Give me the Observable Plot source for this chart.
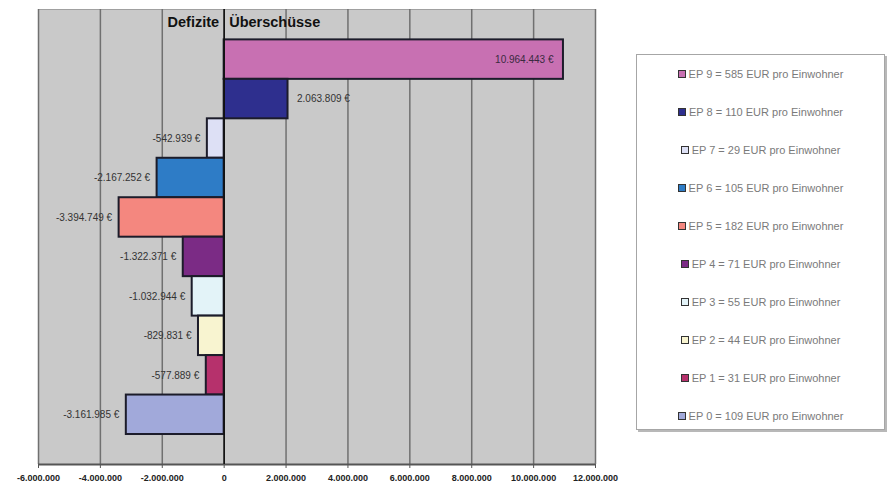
<!DOCTYPE html>
<html>
<head>
<meta charset="utf-8">
<script src="https://cdn.jsdelivr.net/npm/d3@7"></script>
<script src="https://cdn.jsdelivr.net/npm/@observablehq/plot@0.6"></script>
<style>
  html, body { margin: 0; padding: 0; background: #fff; }
  #wrap { position: relative; width: 896px; height: 484px; font-family: Arial, "Liberation Sans", sans-serif; }
  #chart { position: absolute; left: 0; top: 0; }
  #legend {
    position: absolute; left: 636px; top: 54px; width: 249px; height: 376px;
    border: 1px solid #a6a6a6; box-shadow: 2px 2px 0 #b8b8b8; background: #fff;
    box-sizing: border-box;
  }
  .row { height: 38px; display: flex; align-items: center; justify-content: center; font-size: 11px; color: #7a7a7a; }
  .sw { width: 6px; height: 6px; border: 1.5px solid #333; margin-right: 3px; }
</style>
</head>
<body>
<div id="wrap">
  <div id="chart"></div>
  <div id="legend"></div>
</div>
<script>
// ---- data ----
const categories = ["EP 9", "EP 8", "EP 7", "EP 6", "EP 5", "EP 4", "EP 3", "EP 2", "EP 1", "EP 0"];
const values = [10964443, 2063809, -542939, -2167252, -3394749, -1322371, -1032944, -829831, -577889, -3161985];
const perCapita = [585, 110, 29, 105, 182, 71, 55, 44, 31, 109];
const colors = ["#c870b2", "#2e2f8e", "#dde0f5", "#2e7cc6", "#f4877f", "#7b2b85", "#e3f3f8", "#f8f4d0", "#b6316c", "#a1a9da"];
const xTicks = [-6000000, -4000000, -2000000, 0, 2000000, 4000000, 6000000, 8000000, 10000000, 12000000];
const headLeft = "Defizite";
const headRight = "Überschüsse";

const rows = categories.map((c, i) => ({cat: c, i, value: values[i], color: colors[i]}));

const de = d3.formatLocale({decimal: ",", thousands: ".", grouping: [3], currency: ["", " €"], minus: "-"});
const fmtNum = de.format(",d");
const fmtEur = v => fmtNum(v) + " €";

const yTop = -0.77, yBottom = 10.76;

const inside = rows.filter(d => d.value > 5000000);
const outsidePos = rows.filter(d => d.value > 0 && d.value <= 5000000);
const neg = rows.filter(d => d.value < 0);

const chart = Plot.plot({
  width: 620,
  height: 484,
  marginLeft: 38,
  marginRight: 25,
  marginTop: 9,
  marginBottom: 20,
  style: {background: "transparent", fontFamily: "Arial, 'Liberation Sans', sans-serif"},
  x: {domain: [-6000000, 12000000], label: null},
  y: {domain: [yBottom, yTop], axis: null},
  marks: [
    Plot.frame({fill: "#c9c9c9", stroke: "#a0a0a0"}),
    Plot.gridX(xTicks, {stroke: "#707070", strokeOpacity: 1, strokeWidth: 1.5}),
    Plot.ruleY([yBottom], {stroke: "#555", strokeWidth: 2}),
    Plot.rect(rows, {x1: 0, x2: "value", y1: "i", y2: d => d.i + 1, fill: "color", stroke: "#1c1c2a", strokeWidth: 2}),
    Plot.ruleX([0], {stroke: "#111", strokeWidth: 1.6}),
    Plot.axisX(xTicks, {tickFormat: fmtNum, tickSize: 4, tickPadding: 6, fontSize: 9, fontWeight: "bold", fill: "#222", stroke: "#555", label: null}),
    Plot.text(inside, {x: "value", y: d => d.i + 0.5, text: d => fmtEur(d.value), textAnchor: "end", dx: -10, fontSize: 10, fill: "#3a2a40"}),
    Plot.text(outsidePos, {x: "value", y: d => d.i + 0.5, text: d => fmtEur(d.value), textAnchor: "start", dx: 9, fontSize: 10, fill: "#333"}),
    Plot.text(neg, {x: "value", y: d => d.i + 0.5, text: d => fmtEur(d.value), textAnchor: "end", dx: -7, fontSize: 10, fill: "#333"}),
    Plot.text([headLeft], {x: 0, y: -0.44, text: d => d, textAnchor: "end", dx: -5, fontSize: 14.5, fontWeight: "bold", fill: "#111"}),
    Plot.text([headRight], {x: 0, y: -0.44, text: d => d, textAnchor: "start", dx: 5, fontSize: 14.5, fontWeight: "bold", fill: "#111"})
  ]
});
document.getElementById("chart").appendChild(chart);

const legend = document.getElementById("legend");
categories.forEach((c, i) => {
  const row = document.createElement("div");
  row.className = "row";
  const sw = document.createElement("span");
  sw.className = "sw";
  sw.style.background = colors[i];
  const t = document.createElement("span");
  t.textContent = `${c} = ${perCapita[i]} EUR pro Einwohner`;
  row.appendChild(sw);
  row.appendChild(t);
  legend.appendChild(row);
});
</script>
</body>
</html>
